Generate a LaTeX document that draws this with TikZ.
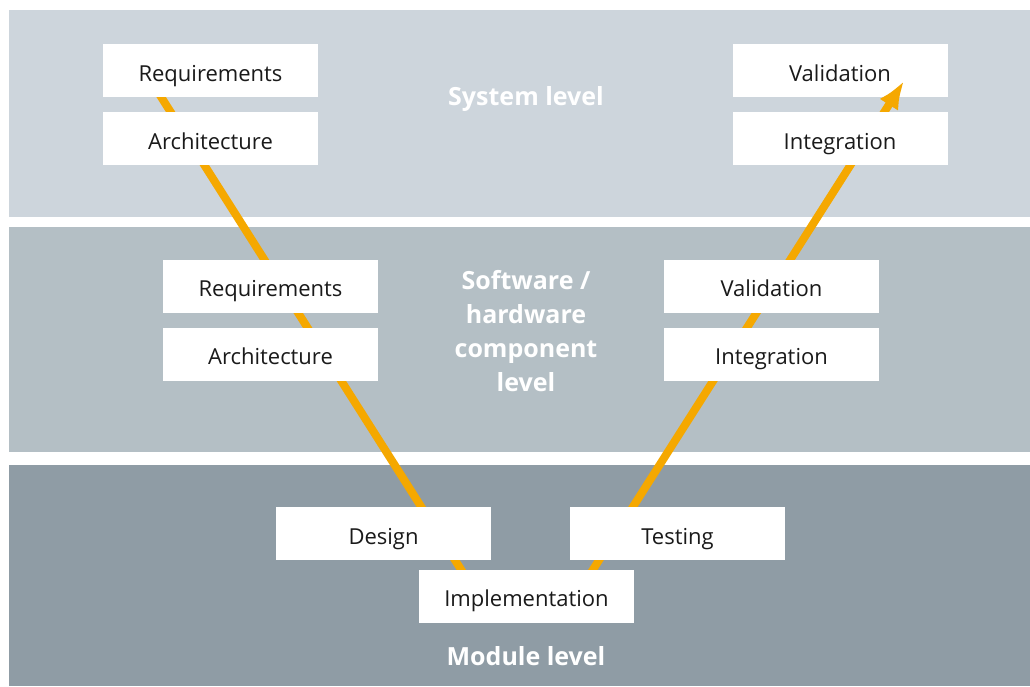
\documentclass[tikz,border=0pt]{standalone}
\usepackage{fontspec}
\setmainfont{Open Sans}
\usetikzlibrary{arrows.meta}
\definecolor{syslevel}{HTML}{CDD5DC}
\definecolor{complevel}{HTML}{B4BFC5}
\definecolor{modlevel}{HTML}{8F9CA5}
\definecolor{vorange}{HTML}{F5A800}
\definecolor{boxtext}{HTML}{1A1A1A}

\begin{document}
\begin{tikzpicture}[x=1pt,y=-1pt,
    phase/.style={fill=white, text=boxtext, minimum width=215pt, minimum height=53pt,
      inner sep=0pt, text height=21pt, text depth=0pt, font=\fontsize{22}{26}\selectfont},
    level/.style={text=white, align=center, font=\bfseries\fontsize{25}{34}\selectfont},
    vline/.style={draw=vorange, line width=8pt, line join=round}]

    % Background
    \useasboundingbox (0,0) rectangle (1030,686);
    \fill[white] (0,0) rectangle (1030,686);

    % Bands
    \fill[syslevel] (9,10) rectangle (1030,217);
    \fill[complevel] (9,227) rectangle (1030,452);
    \fill[modlevel] (9,465) rectangle (1030,686);

    % Level labels
    \node[level] (syslabel) at (526,99) {System level};
    \node[level] (complabel) at (526,331) {Software /\\hardware\\component\\level};
    \node[level] (modlabel) at (526,656) {Module level};

    % Validation box sits under the arrow tip
    \node[phase] (sysval) at (840,70.5) {Validation};

    % V line
    \coordinate (vstart) at (144,70);
    \coordinate (vleft) at (474,590);
    \coordinate (vright) at (580,590);
    \coordinate (vtip) at (904,81);
    \draw[vline, -{Latex[length=28pt,width=22pt]}] (vstart) -- (vleft) -- (vright) -- (vtip);

    % Boxes
    \node[phase] (sysreq) at (210.5,70.5) {Requirements};
    \node[phase] (sysarch) at (210.5,138.5) {Architecture};
    \node[phase] (sysint) at (840,138.5) {Integration};
    \node[phase] (compreq) at (270.5,286) {Requirements};
    \node[phase] (comparch) at (270.5,354) {Architecture};
    \node[phase] (compval) at (771.5,286) {Validation};
    \node[phase] (compint) at (771.5,354) {Integration};
    \node[phase] (design) at (383.5,533.5) {Design};
    \node[phase] (testing) at (677.5,533.5) {Testing};
    \node[phase] (impl) at (526.5,596) {Implementation};

\end{tikzpicture}
\end{document}
